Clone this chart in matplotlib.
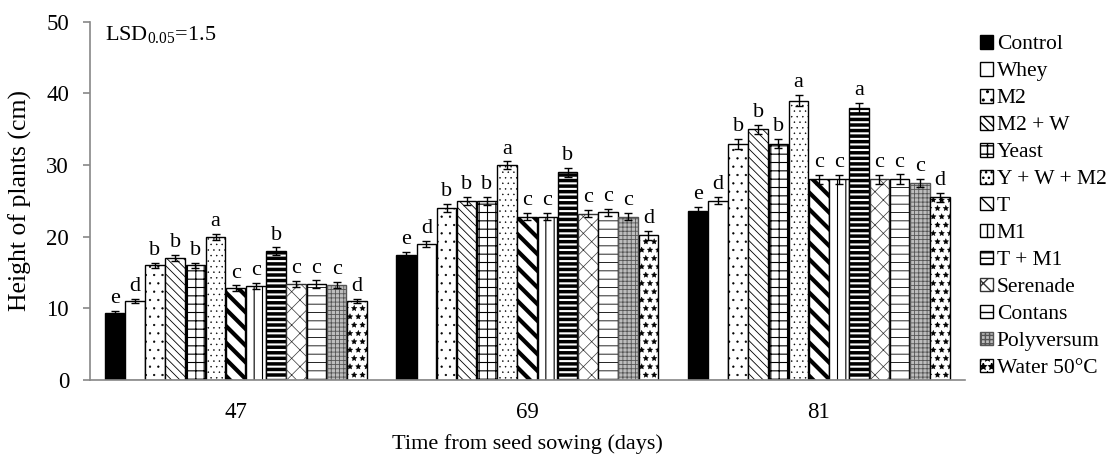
import matplotlib
matplotlib.use("Agg")
from matplotlib import pyplot as plt
import numpy as np

plt.rcParams['font.family'] = ['Liberation Serif', 'DejaVu Serif']
plt.rcParams['mathtext.fontset'] = 'custom'
plt.rcParams['mathtext.rm'] = 'Liberation Serif'
plt.rcParams['mathtext.it'] = 'Liberation Serif:italic'

days = ['47', '69', '81']
treatments = ['Control', 'Whey', 'M2', 'M2 + W', 'Yeast', 'Y + W + M2', 'T', 'M1',
              'T + M1', 'Serenade', 'Contans', 'Polyversum', 'Water 50°C']

# mean height (cm) per treatment, one value per day
heights = [
    [9.3, 17.4, 23.6],   # Control
    [11.0, 19.0, 25.0],  # Whey
    [16.0, 24.0, 33.0],  # M2
    [17.0, 25.0, 35.0],  # M2 + W
    [16.0, 25.0, 33.0],  # Yeast
    [20.0, 30.0, 39.0],  # Y + W + M2
    [12.8, 22.8, 28.0],  # T
    [13.1, 22.8, 28.0],  # M1
    [18.0, 29.0, 38.0],  # T + M1
    [13.4, 23.2, 28.0],  # Serenade
    [13.4, 23.4, 28.0],  # Contans
    [13.3, 22.8, 27.5],  # Polyversum
    [11.0, 20.2, 25.5],  # Water 50°C
]
errors = [
    [0.4, 0.5, 0.6], [0.3, 0.4, 0.5], [0.3, 0.6, 0.7], [0.4, 0.6, 0.6],
    [0.3, 0.6, 0.6], [0.4, 0.5, 0.8], [0.4, 0.5, 0.6], [0.4, 0.5, 0.6],
    [0.5, 0.6, 0.7], [0.4, 0.5, 0.6], [0.5, 0.5, 0.7], [0.4, 0.5, 0.6],
    [0.3, 0.6, 0.6],
]
letters = [
    ['e', 'e', 'e'], ['d', 'd', 'd'], ['b', 'b', 'b'], ['b', 'b', 'b'],
    ['b', 'b', 'b'], ['a', 'a', 'a'], ['c', 'c', 'c'], ['c', 'c', 'c'],
    ['b', 'b', 'a'], ['c', 'c', 'c'], ['c', 'c', 'c'], ['c', 'c', 'c'],
    ['d', 'd', 'd'],
]

# (facecolor, edgecolor, hatch, hatch linewidth)
styles = [
    ('black', 'black', None, 1.0),
    ('white', 'black', None, 1.0),
    ('white', 'black', '..', 0.4),
    ('white', 'black', '\\\\\\\\', 0.6),
    ('white', 'black', '++', 0.8),
    ('white', 'black', '...', 0.3),
    ('white', 'black', '\\\\', 3.0),
    ('white', 'black', '||', 0.8),
    ('white', 'black', '---', 2.5),
    ('white', '#333333', 'xx', 0.5),
    ('white', 'black', '--', 0.6),
    ('#bdbdbd', '#555555', '++++', 0.6),
    ('white', 'black', '**', 0.3),
]

fig, ax = plt.subplots(figsize=(11.1, 4.54), dpi=100)
fig.subplots_adjust(left=0.081, right=0.869, top=0.952, bottom=0.163)

x = np.arange(len(days))
n = len(treatments)
w = 0.9 / n

for i, name in enumerate(treatments):
    fc, ec, hatch, hlw = styles[i]
    pos = x + (i - (n - 1) / 2) * w
    bars = ax.bar(pos, heights[i], w * 0.97, yerr=errors[i], color=fc, edgecolor=ec,
                  hatch=hatch, linewidth=1.0, label=name,
                  error_kw=dict(ecolor='black', elinewidth=1.0, capsize=3, capthick=1.0))
    for b in bars:
        try:
            b.set_hatch_linewidth(hlw)
        except AttributeError:
            pass
    for j in range(len(days)):
        ax.text(pos[j], heights[i][j] + errors[i][j] + 0.4, letters[i][j],
                ha='center', va='bottom', fontsize=16)

ax.set_xlim(-0.5, 2.5)
ax.set_ylim(0, 50)
ax.set_yticks([0, 10, 20, 30, 40, 50])
ax.set_xticks(x)
ax.set_xticklabels(days)
ax.tick_params(axis='y', labelsize=16.5, color='#888888', length=5, width=1.2, pad=10)
ax.tick_params(axis='x', labelsize=16.5, length=0, pad=16)
for s in ['top', 'right']:
    ax.spines[s].set_visible(False)
for s in ['left', 'bottom']:
    ax.spines[s].set_color('#888888')
    ax.spines[s].set_linewidth(1.2)

ax.set_ylabel('Height of plants (cm)', fontsize=18.5, labelpad=10)
ax.set_xlabel('Time from seed sowing (days)', fontsize=16, labelpad=8)
ax.text(0.017, 0.995, 'LSD$_{\\mathrm{0.05}}$=1.5', transform=ax.transAxes,
        fontsize=16, va='top', ha='left')

ax.legend(loc='upper left', bbox_to_anchor=(1.0, 1.005), frameon=False, fontsize=15.5,
          handlelength=0.6, handleheight=0.6, handletextpad=0.2, labelspacing=0.35,
          borderaxespad=0.3)

fig.savefig('out.png', dpi=100)
